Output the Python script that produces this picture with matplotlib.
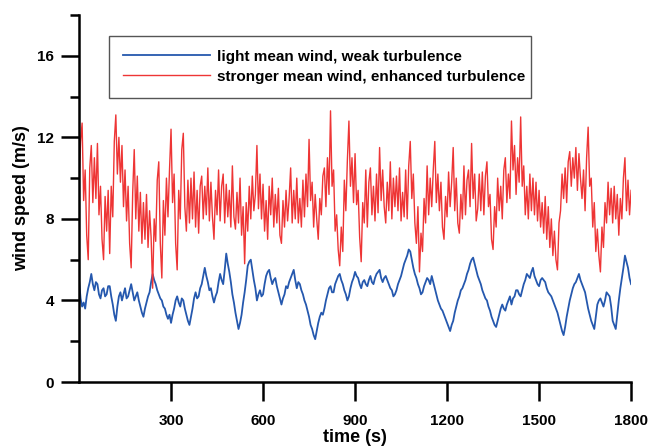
import numpy as np
import matplotlib
matplotlib.use("Agg")
import matplotlib.pyplot as plt
from matplotlib.ticker import MultipleLocator

# windsnelheid (m/s), elke 5 s van 0 tot 1800 s
wind_weak = [
    5.0, 4.1, 3.7, 3.9, 3.6, 4.2, 4.6, 4.9, 5.3, 4.8, 4.5, 4.9, 4.8, 4.3, 4.1, 4.5, 4.6, 4.2, 4.3, 4.7,
    4.7, 4.2, 3.8, 3.3, 3.0, 3.7, 4.2, 4.4, 4.0, 4.3, 4.6, 4.1, 4.2, 4.5, 4.8, 4.4, 4.0, 4.2, 4.4, 4.0,
    3.7, 3.4, 3.2, 3.6, 3.9, 4.2, 4.4, 4.9, 5.3, 5.0, 4.8, 4.5, 4.3, 4.1, 4.0, 3.7, 3.6, 3.3, 3.1, 3.3,
    2.9, 3.3, 3.6, 4.0, 4.2, 3.9, 3.7, 4.1, 4.0, 3.6, 3.3, 3.0, 2.8, 3.2, 3.6, 4.1, 4.4, 4.1, 4.2, 4.6,
    4.8, 5.2, 5.6, 5.2, 4.9, 4.5, 4.6, 4.2, 3.9, 4.2, 4.4, 4.9, 5.3, 5.0, 4.8, 5.5, 6.3, 5.8, 5.4, 4.9,
    4.3, 3.9, 3.4, 3.0, 2.6, 2.9, 3.3, 3.9, 4.4, 5.0, 5.7, 5.9, 6.0, 5.5, 5.0, 4.6, 4.0, 4.3, 4.5, 4.2,
    4.3, 4.8, 5.2, 5.4, 5.5, 5.1, 4.8, 5.0, 5.1, 4.7, 4.4, 4.1, 3.8, 4.1, 4.3, 4.7, 4.6, 4.9, 5.1, 5.3,
    5.5, 5.0, 4.6, 4.9, 4.8, 4.5, 4.3, 4.0, 3.8, 3.5, 3.2, 2.8, 2.6, 2.3, 2.1, 2.5, 2.9, 3.2, 3.4, 3.3,
    3.6, 4.0, 4.3, 4.6, 4.7, 4.4, 4.4, 4.8, 5.0, 5.2, 5.3, 5.0, 4.8, 4.5, 4.3, 4.0, 4.2, 4.6, 4.9, 5.1,
    5.4, 5.2, 5.1, 4.8, 4.6, 4.9, 5.0, 4.8, 4.7, 5.0, 5.2, 4.9, 4.8, 5.1, 5.3, 5.4, 5.5, 5.1, 4.9, 5.1,
    5.2, 5.0, 4.8, 4.6, 4.5, 4.2, 4.3, 4.5, 4.8, 5.0, 5.2, 5.5, 5.8, 6.0, 6.2, 6.5, 6.4, 6.0, 5.6, 5.3,
    5.1, 4.8, 4.6, 4.3, 4.4, 4.7, 4.9, 5.1, 5.0, 4.8, 5.2, 4.9, 4.6, 4.3, 4.0, 3.8, 3.6, 3.5, 3.3, 3.1,
    2.9, 2.7, 2.5, 2.8, 3.0, 3.4, 3.7, 4.0, 4.2, 4.5, 4.6, 4.8, 5.0, 5.3, 5.5, 5.8, 6.0, 6.1, 5.8, 5.5,
    5.2, 5.0, 4.8, 4.5, 4.3, 4.1, 4.0, 3.7, 3.5, 3.2, 3.0, 2.8, 2.7, 3.0, 3.3, 3.6, 3.8, 3.6, 3.5, 3.8,
    4.0, 4.2, 3.8, 4.1, 4.2, 4.5, 4.5, 4.3, 4.2, 4.5, 4.8, 5.0, 5.3, 5.2, 5.1, 5.4, 5.6, 5.2, 5.0, 4.8,
    4.7, 5.0, 5.1, 5.0, 4.9, 4.6, 4.4, 4.3, 4.2, 4.0, 3.8, 3.6, 3.4, 3.1, 2.8, 2.5, 2.3, 2.7, 3.2, 3.6,
    4.0, 4.3, 4.6, 4.8, 4.9, 5.1, 5.3, 5.0, 4.8, 4.6, 4.4, 4.0, 3.6, 3.3, 3.0, 2.8, 2.6, 3.2, 3.8, 4.0,
    4.1, 3.9, 3.7, 4.0, 4.4, 4.3, 4.2, 3.7, 3.0, 2.8, 2.6, 3.3, 4.0, 4.6, 5.1, 5.6, 6.2, 5.9, 5.6, 5.1,
    4.8,
]

wind_strong = [
    9.6, 11.8, 12.7, 8.9, 10.4, 7.2, 6.0, 10.5, 11.6, 8.8, 11.0, 9.0, 11.7, 8.2, 9.6, 7.0, 6.0, 9.1, 7.4, 9.4,
    6.3, 9.6, 8.1, 11.8, 13.1, 10.2, 12.0, 9.8, 11.6, 8.6, 10.4, 7.9, 9.6, 6.8, 5.6, 9.3, 11.4, 8.0, 10.1, 7.4,
    9.3, 6.8, 8.8, 7.0, 9.2, 6.6, 8.4, 7.1, 4.6, 8.0, 6.9, 9.9, 10.8, 6.8, 5.1, 8.9, 7.2, 10.0, 8.1, 10.4,
    12.4, 8.8, 10.2, 6.8, 5.5, 9.4, 8.0, 11.4, 12.2, 8.6, 7.4, 9.9, 7.8, 10.0, 8.0, 10.3, 7.6, 9.4, 7.3, 9.6,
    10.1, 8.0, 9.6, 8.2, 10.5, 7.9, 9.8, 8.1, 7.0, 9.4, 8.2, 10.4, 7.9, 9.6, 10.2, 7.8, 9.7, 8.1, 9.4, 7.6,
    10.6, 8.1, 7.5, 9.3, 7.8, 10.0, 7.2, 8.6, 5.8, 8.8, 7.4, 9.6, 8.0, 10.1, 8.4, 9.2, 11.6, 8.5, 10.2, 8.0,
    9.7, 7.4, 8.9, 7.0, 9.6, 8.2, 10.0, 7.6, 9.2, 7.8, 9.5, 7.2, 6.8, 8.9, 7.6, 9.4, 7.9, 9.0, 10.5, 7.8,
    9.4, 8.0, 10.0, 7.8, 9.0, 7.6, 9.9, 8.1, 10.2, 8.6, 11.9, 8.9, 9.8, 7.6, 9.2, 8.0, 7.0, 9.0, 8.2, 10.1,
    10.5, 8.6, 11.0, 9.2, 13.3, 9.6, 10.4, 7.4, 8.2, 6.5, 5.7, 7.6, 6.4, 9.9, 8.4, 10.9, 12.8, 9.6, 11.0, 8.8,
    11.2, 8.7, 9.4, 7.1, 5.9, 8.8, 7.8, 10.4, 7.6, 9.8, 10.5, 8.2, 9.6, 7.9, 10.2, 8.3, 11.5, 8.9, 10.4, 8.6,
    7.8, 9.8, 8.4, 10.8, 8.0, 10.0, 8.6, 10.1, 8.4, 10.5, 7.9, 9.3, 8.1, 10.4, 8.0, 10.6, 11.8, 9.0, 10.2, 7.8,
    6.8, 8.6, 5.4, 7.3, 6.4, 9.0, 7.8, 10.6, 8.2, 10.0, 8.6, 10.4, 11.8, 8.8, 10.2, 8.4, 9.8, 7.6, 7.0, 9.1,
    8.1, 10.3, 8.6, 9.8, 11.5, 8.4, 10.0, 7.8, 7.3, 9.2, 8.0, 10.6, 8.2, 9.9, 10.4, 8.6, 11.7, 9.0, 10.2, 7.9,
    8.5, 10.2, 8.4, 10.3, 8.2, 10.1, 10.8, 8.6, 9.2, 7.0, 6.5, 8.6, 7.6, 10.0, 8.4, 9.6, 8.0, 10.4, 11.0, 8.8,
    10.2, 9.0, 12.8, 10.4, 11.6, 9.2, 11.0, 9.8, 13.0, 9.6, 10.6, 8.2, 9.6, 8.0, 10.2, 8.4, 10.0, 8.2, 9.8, 7.9,
    9.4, 7.6, 8.8, 7.3, 9.1, 7.0, 8.6, 6.6, 8.0, 6.2, 7.4, 6.0, 5.5, 7.8, 8.4, 10.2, 9.0, 10.5, 8.8, 10.8,
    11.3, 9.6, 11.0, 10.0, 11.5, 9.4, 11.2, 10.0, 9.0, 10.4, 8.4, 11.0, 12.5, 9.6, 10.0, 7.6, 8.8, 6.4, 7.5, 6.2,
    5.4, 7.6, 6.6, 8.8, 7.8, 9.8, 8.2, 9.5, 7.8, 9.6, 8.0, 9.2, 7.2, 9.0, 8.0, 10.0, 11.0, 8.4, 9.9, 8.2,
    9.4,
]

# tijd in s, monsters elke 5 s
time_weak = np.arange(len(wind_weak)) * 5
time_strong = np.arange(len(wind_strong)) * 5

labels = ["light mean wind, weak turbulence",
          "stronger mean wind, enhanced turbulence"]

plt.rcParams['font.family'] = ['Liberation Sans', 'DejaVu Sans']
plt.rcParams['font.weight'] = 'bold'

fig = plt.figure(figsize=(6.51, 4.48), dpi=100)
ax = fig.add_axes([0.1214, 0.1473, 0.8480, 0.8192])

ax.plot(time_weak, wind_weak, color="#2558ae", lw=1.3, label=labels[0])
ax.plot(time_strong, wind_strong, color="#ee3535", lw=1.0, label=labels[1])

ax.set_xlim(0, 1800)
ax.set_ylim(0, 18)
ax.set_xticks([300, 600, 900, 1200, 1500, 1800])
ax.set_yticks([0, 4, 8, 12, 16])
ax.yaxis.set_minor_locator(MultipleLocator(2))

for s in ["top", "right"]:
    ax.spines[s].set_visible(False)
for s in ["left", "bottom"]:
    ax.spines[s].set_linewidth(1.8)

ax.tick_params(axis="both", which="major", direction="out", length=13,
               width=1.8, labelsize=11, pad=5)
ax.tick_params(axis="x", which="major", length=14, pad=9)
ax.tick_params(axis="y", which="minor", direction="out", length=6.5, width=1.8)

ax.set_xlabel("time (s)", fontsize=13, fontweight="bold", labelpad=1)
ax.set_ylabel("wind speed (m/s)", fontsize=13, fontweight="bold", labelpad=5)

leg = ax.legend(loc="upper left", bbox_to_anchor=(0.054, 0.943, 0.765, 0.0),
                mode="expand", borderaxespad=0, fontsize=11, handlelength=5.7,
                handletextpad=0.5, labelspacing=0.4, borderpad=0.9,
                fancybox=False, framealpha=1, edgecolor="#555555")
leg.get_frame().set_linewidth(1.0)

fig.savefig("out.png", dpi=100)
